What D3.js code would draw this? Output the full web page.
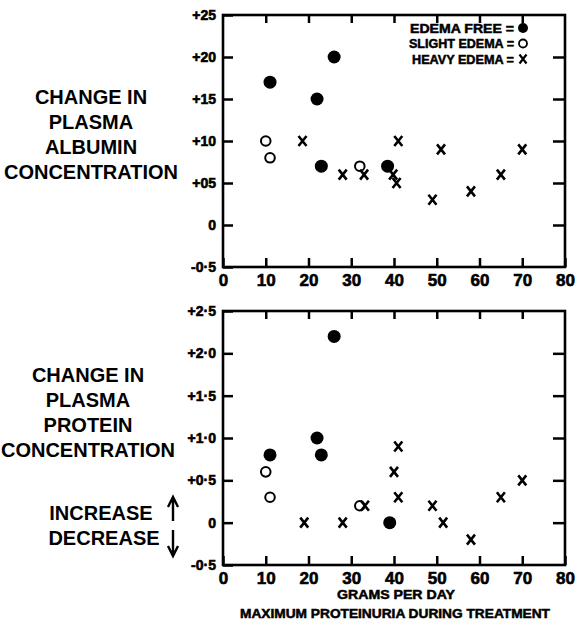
<!DOCTYPE html>
<html lang="en">
	<head>
		<meta charset="utf-8">
		<title>proteinuria</title>
		<script type="text/javascript" src="https://cdn.jsdelivr.net/npm/d3@7"></script>
		<style>
			body{margin:0;background:white;}
			text{font-family:"Liberation Sans",Arial,sans-serif;font-weight:bold;fill:black;}
		</style>
	</head>
	<body>
		<div id="chart"></div>
		<script type="text/javascript">

			// x = grams per day, y = change in concentration
			var albuminFree = [[11,1.7],[22,1.5],[26,2.0],[23,0.7],[38.5,0.7]]
			var albuminSlight = [[10,1.0],[11,0.8],[32,0.7]]
			var albuminHeavy = [[18.6,1.0],[28,0.6],[33,0.6],[39.8,0.6],[40.6,0.5],[41,1.0],[49,0.3],[51,0.9],[58,0.4],[65,0.6],[70,0.9]]

			var proteinFree = [[11,0.8],[22,1.0],[23,0.8],[26,2.2],[39,0]]
			var proteinSlight = [[10,0.6],[11,0.3],[32,0.2]]
			var proteinHeavy = [[19,0],[28,0],[33.2,0.2],[40,0.6],[41,0.9],[41,0.3],[49,0.2],[51.5,0],[58,-0.2],[65,0.3],[70,0.5]]

			var yTicks = [-0.5,0,0.5,1.0,1.5,2.0,2.5]
			var albuminLabels = ["-0·5","0","+05","+10","+15","+20","+25"]
			var proteinLabels = ["-0·5","0","+0·5","+1·0","+1·5","+2·0","+2·5"]
			var xTicks = [0,10,20,30,40,50,60,70,80]
			var xLabels = ["0","10","20","30","40","50","60","70","80"]

			var legendNames = ["EDEMA  FREE =","SLIGHT  EDEMA =","HEAVY  EDEMA ="]

			var w = 578
			var h = 621

			var svg = d3.select("#chart").append("svg")
			.attr("width",w)
			.attr("height",h)

			var xScale = d3.scaleLinear()
			.domain([0,80])
			.range([223,565])

			function panel(top,bottom,labels,free,slight,heavy){
				var yScale = d3.scaleLinear()
				.domain([-0.5,2.5])
				.range([bottom,top])

				var g = svg.append("g")

				// inward ticks on all four sides
				var left = g.append("g")
				.attr("transform","translate(223,0)")
				.call(d3.axisLeft(yScale).tickValues(yTicks).tickSize(-10).tickPadding(7)
					.tickFormat(function(d,i){return labels[i]}))

				g.append("g")
				.attr("transform","translate(565,0)")
				.call(d3.axisRight(yScale).tickValues(yTicks.slice(1,-1)).tickSize(-12).tickFormat(""))

				var bot = g.append("g")
				.attr("transform","translate(0,"+bottom+")")
				.call(d3.axisBottom(xScale).tickValues(xTicks).tickSize(-9).tickPadding(7)
					.tickFormat(function(d,i){return xLabels[i]}))

				g.append("g")
				.attr("transform","translate(0,"+top+")")
				.call(d3.axisTop(xScale).tickValues(xTicks.slice(1,-1)).tickSize(-8).tickFormat(""))

				left.attr("font-size",14).attr("font-family",null)
				bot.attr("font-size",17).attr("font-family",null)

				g.selectAll(".domain").remove()
				g.selectAll(".tick line").attr("stroke","black").attr("stroke-width",2.5)
				g.selectAll(".tick text").attr("fill","black")
				.attr("stroke","black").attr("stroke-width",0.6)

				g.append("rect")
				.attr("x",xScale(0))
				.attr("y",top)
				.attr("width",xScale(80)-xScale(0))
				.attr("height",bottom-top)
				.attr("fill","none")
				.attr("stroke","black")
				.attr("stroke-width",2.6)

				g.selectAll(".free")
				.data(free)
				.enter()
				.append("circle")
				.attr("cx",function(d){return xScale(d[0])})
				.attr("cy",function(d){return yScale(d[1])})
				.attr("r",6.5)
				.attr("fill","black")

				g.selectAll(".slight")
				.data(slight)
				.enter()
				.append("circle")
				.attr("cx",function(d){return xScale(d[0])})
				.attr("cy",function(d){return yScale(d[1])})
				.attr("r",4.8)
				.attr("fill","none")
				.attr("stroke","black")
				.attr("stroke-width",2)

				g.selectAll(".heavy")
				.data(heavy)
				.enter()
				.append("path")
				.attr("d","M-4,-5L4,5M4,-5L-4,5")
				.attr("transform",function(d){return "translate("+xScale(d[0])+","+yScale(d[1])+")"})
				.attr("stroke","black")
				.attr("stroke-width",2.6)
				.attr("fill","none")

				return g
			}

			panel(15,267,albuminLabels,albuminFree,albuminSlight,albuminHeavy)
			panel(311,565,proteinLabels,proteinFree,proteinSlight,proteinHeavy)

			// legend
			var legendWidths = [104,105,102]
			var legend = svg.append("g")
			legend.selectAll("text")
			.data(legendNames)
			.enter()
			.append("text")
			.attr("x",514)
			.attr("y",function(d,i){return 32.5+i*15.5})
			.attr("text-anchor","end")
			.attr("stroke","black").attr("stroke-width",0.5)
			.attr("textLength",function(d,i){return legendWidths[i]})
			.attr("lengthAdjust","spacingAndGlyphs")
			.style("font-size","12.5px")
			.text(function(d){return d})
			legend.append("circle").attr("cx",523).attr("cy",28).attr("r",5).attr("fill","black")
			legend.append("circle").attr("cx",523).attr("cy",43.5).attr("r",4).attr("fill","none").attr("stroke","black").attr("stroke-width",1.8)
			legend.append("path").attr("d","M-3.5,-4.5L3.5,4.5M3.5,-4.5L-3.5,4.5")
			.attr("transform","translate(523,59)").attr("stroke","black").attr("stroke-width",2.2)

			// left titles
			var leftTop = ["CHANGE IN","PLASMA","ALBUMIN","CONCENTRATION"]
			var leftBottom = ["CHANGE IN","PLASMA","PROTEIN","CONCENTRATION"]
			svg.selectAll(".lt")
			.data(leftTop)
			.enter()
			.append("text")
			.attr("x",91)
			.attr("y",function(d,i){return 104+i*25})
			.attr("text-anchor","middle")
			.style("font-size","20px")
			.text(function(d){return d})
			svg.selectAll(".lb")
			.data(leftBottom)
			.enter()
			.append("text")
			.attr("x",88)
			.attr("y",function(d,i){return 382+i*25})
			.attr("text-anchor","middle")
			.style("font-size","20px")
			.text(function(d){return d})

			svg.append("text").attr("x",101).attr("y",520).attr("text-anchor","middle").style("font-size","20px").text("INCREASE")
			svg.append("text").attr("x",104).attr("y",545).attr("text-anchor","middle").style("font-size","20px").text("DECREASE")

			// arrows
			svg.append("path").attr("d","M173,521L173,500M168,507L173,497L178,507")
			.attr("stroke","black").attr("stroke-width",2.4).attr("fill","none")
			svg.append("path").attr("d","M173,530L173,553M168,546L173,556L178,546")
			.attr("stroke","black").attr("stroke-width",2.4).attr("fill","none")

			// x titles
			svg.append("text").attr("x",396).attr("y",599).attr("text-anchor","middle")
			.attr("stroke","black").attr("stroke-width",0.5)
			.attr("textLength",118).attr("lengthAdjust","spacingAndGlyphs")
			.style("font-size","12.5px").text("GRAMS PER DAY")
			svg.append("text").attr("x",395).attr("y",618).attr("text-anchor","middle")
			.attr("stroke","black").attr("stroke-width",0.5)
			.attr("textLength",310).attr("lengthAdjust","spacingAndGlyphs")
			.style("font-size","12.5px").text("MAXIMUM PROTEINURIA DURING TREATMENT")

		</script>
	</body>
</html>
